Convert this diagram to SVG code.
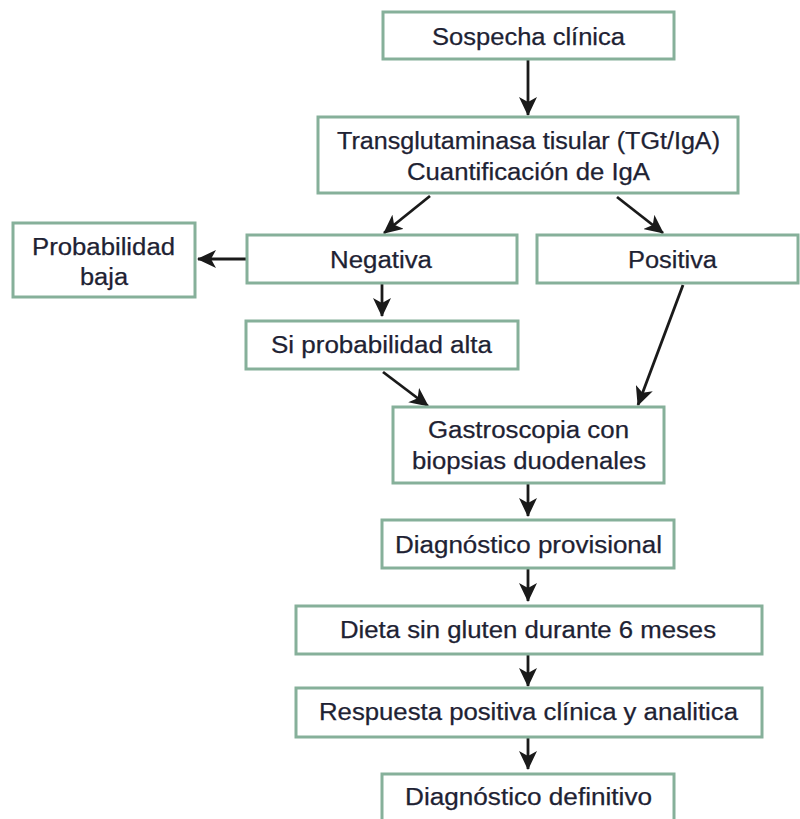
<svg xmlns="http://www.w3.org/2000/svg" width="800" height="819" viewBox="0 0 800 819">
<defs>
<style>
.box{fill:#fff;stroke:#86b09a;stroke-width:3}
.t{font-family:"Liberation Sans",Arial,sans-serif;font-size:23px;fill:#1e2233;stroke:#1e2233;stroke-width:0.25;text-anchor:middle}
.c{stroke:#1a1a1a;stroke-width:2.8;fill:none;marker-end:url(#ah)}
</style>
<marker id="ah" markerUnits="userSpaceOnUse" markerWidth="20" markerHeight="18" viewBox="0 0 20 18" refX="18" refY="9" orient="auto">
<path d="M0,0 L19,9 L0,18 L5,9 Z" fill="#1a1a1a"/>
</marker>
</defs>
<rect width="800" height="819" fill="#fff"/>
<g id="connectors">
<line class="c" x1="528" y1="60" x2="528" y2="115"/>
<line class="c" x1="430" y1="196" x2="384" y2="233"/>
<line class="c" x1="617" y1="197" x2="663" y2="233"/>
<line class="c" x1="247" y1="259" x2="198" y2="259"/>
<line class="c" x1="382" y1="284" x2="382" y2="316"/>
<line class="c" x1="383" y1="372" x2="428" y2="406"/>
<line class="c" x1="683" y1="285" x2="638" y2="405"/>
<line class="c" x1="528" y1="484" x2="528" y2="516"/>
<line class="c" x1="528" y1="569" x2="528" y2="601"/>
<line class="c" x1="528" y1="655" x2="528" y2="686"/>
<line class="c" x1="528" y1="738" x2="528" y2="769"/>
</g>
<g id="n1"><rect class="box" x="383" y="12" width="291" height="47"/><text class="t" x="528.5" y="44.5" textLength="193" lengthAdjust="spacingAndGlyphs">Sospecha clínica</text></g>
<g id="n2"><rect class="box" x="318" y="117" width="420" height="76"/><text class="t" x="528.5" y="148.5" textLength="383" lengthAdjust="spacingAndGlyphs">Transglutaminasa tisular (TGt/IgA)</text><text class="t" x="528.5" y="180" textLength="243" lengthAdjust="spacingAndGlyphs">Cuantificación de IgA</text></g>
<g id="n3"><rect class="box" x="13" y="223" width="182" height="74"/><text class="t" x="103.5" y="255" textLength="143" lengthAdjust="spacingAndGlyphs">Probabilidad</text><text class="t" x="104" y="285" textLength="48" lengthAdjust="spacingAndGlyphs">baja</text></g>
<g id="n4"><rect class="box" x="247" y="235" width="270" height="48"/><text class="t" x="381" y="268" textLength="102" lengthAdjust="spacingAndGlyphs">Negativa</text></g>
<g id="n5"><rect class="box" x="537" y="235" width="261" height="48"/><text class="t" x="672.5" y="268" textLength="89" lengthAdjust="spacingAndGlyphs">Positiva</text></g>
<g id="n6"><rect class="box" x="246" y="321" width="272" height="48"/><text class="t" x="381.5" y="353" textLength="221" lengthAdjust="spacingAndGlyphs">Si probabilidad alta</text></g>
<g id="n7"><rect class="box" x="393" y="407" width="271" height="76"/><text class="t" x="528.5" y="437.5" textLength="201" lengthAdjust="spacingAndGlyphs">Gastroscopia con</text><text class="t" x="529" y="468.5" textLength="234" lengthAdjust="spacingAndGlyphs">biopsias duodenales</text></g>
<g id="n8"><rect class="box" x="382" y="520" width="292" height="48"/><text class="t" x="528.5" y="553" textLength="267" lengthAdjust="spacingAndGlyphs">Diagnóstico provisional</text></g>
<g id="n9"><rect class="box" x="296" y="606" width="466" height="48"/><text class="t" x="528" y="637.5" textLength="376" lengthAdjust="spacingAndGlyphs">Dieta sin gluten durante 6 meses</text></g>
<g id="n10"><rect class="box" x="296" y="688" width="466" height="49"/><text class="t" x="528.5" y="720" textLength="419" lengthAdjust="spacingAndGlyphs">Respuesta positiva clínica y analitica</text></g>
<g id="n11"><rect class="box" x="382" y="774" width="292" height="60"/><text class="t" x="528.5" y="805" textLength="247" lengthAdjust="spacingAndGlyphs">Diagnóstico definitivo</text></g>
</svg>
